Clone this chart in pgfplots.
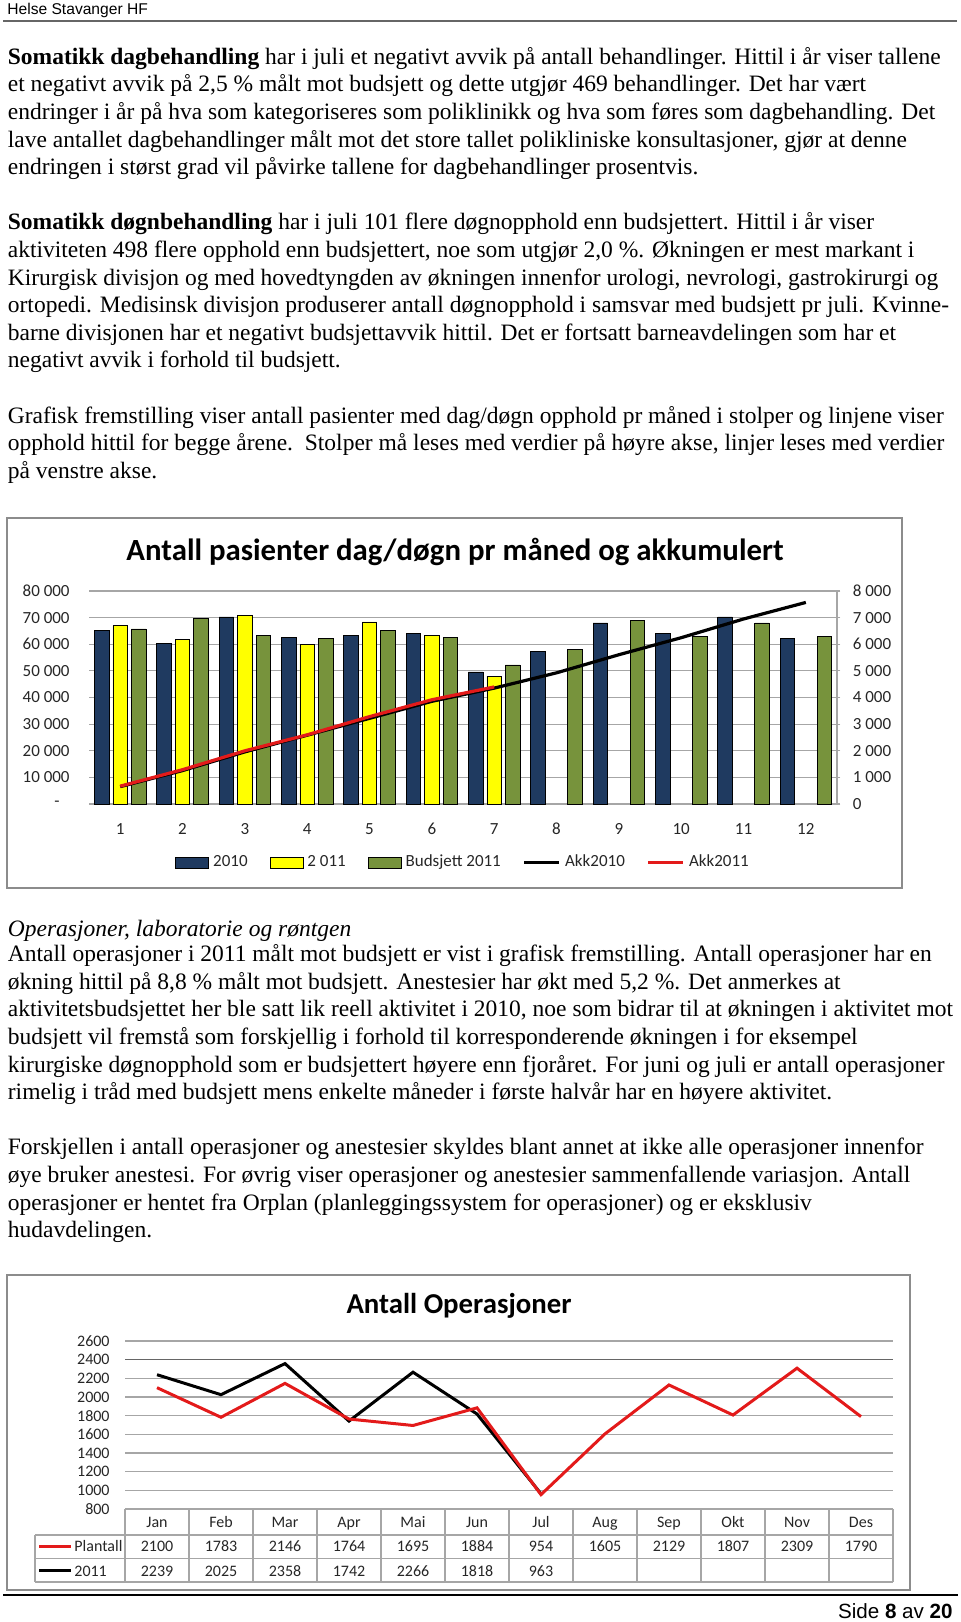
\documentclass[border=0pt]{standalone}
\usepackage{pgfplots}
\pgfplotsset{compat=1.18}
\usepackage{fontspec}
\setmainfont{Liberation Serif}
\newfontfamily\carlito{Carlito}
\newfontfamily\arialf{Liberation Sans}
\definecolor{navy}{HTML}{1F3A60}
\definecolor{yel}{HTML}{FFFF00}
\definecolor{olive}{HTML}{77933C}
\definecolor{gridc}{HTML}{A6A6A6}
\definecolor{framec}{HTML}{8C8C8C}
\definecolor{redl}{HTML}{E31A1A}
\pgfplotsset{
  barleg/.style={legend image code/.code={\draw[##1] (0pt,-2.75pt) rectangle (16.5pt,2.75pt);}},
  lineleg/.style={legend image code/.code={\draw[##1] (0pt,0pt) -- (17.5pt,0pt);}},
}
\newcommand\tl[2]{\node[anchor=base west,inner sep=0pt,font=\fontsize{11.75}{14}\selectfont] at (7.5,#1) {#2};}
\begin{document}
\begin{tikzpicture}[x=0.5pt,y=-0.5pt]
\path[use as bounding box] (0,0) rectangle (960,1622);
% header
\node[anchor=base west,inner sep=0pt,font=\arialf\fontsize{7.8}{9}\selectfont] at (7,14.5) {Helse Stavanger HF};
\draw[line width=0.85pt,color=black!60] (3,20.7) -- (957,20.7);
% paragraph 1
\tl{64.3}{\textbf{Somatikk dagbehandling} har i juli et negativt avvik på antall behandlinger. Hittil i år viser tallene}
\tl{91.9}{et negativt avvik på 2,5 \% målt mot budsjett og dette utgjør 469 behandlinger. Det har vært}
\tl{119.5}{endringer i år på hva som kategoriseres som poliklinikk og hva som føres som dagbehandling. Det}
\tl{147.1}{lave antallet dagbehandlinger målt mot det store tallet polikliniske konsultasjoner, gjør at denne}
\tl{174.7}{endringen i størst grad vil påvirke tallene for dagbehandlinger prosentvis.}
% paragraph 2
\tl{229.9}{\textbf{Somatikk døgnbehandling} har i juli 101 flere døgnopphold enn budsjettert. Hittil i år viser}
\tl{257.5}{aktiviteten 498 flere opphold enn budsjettert, noe som utgjør 2,0 \%. Økningen er mest markant i}
\tl{285.1}{Kirurgisk divisjon og med hovedtyngden av økningen innenfor urologi, nevrologi, gastrokirurgi og}
\tl{312.7}{ortopedi. Medisinsk divisjon produserer antall døgnopphold i samsvar med budsjett pr juli. Kvinne-}
\tl{340.3}{barne divisjonen har et negativt budsjettavvik hittil. Det er fortsatt barneavdelingen som har et}
\tl{367.9}{negativt avvik i forhold til budsjett.}
% paragraph 3
\tl{423.1}{Grafisk fremstilling viser antall pasienter med dag/døgn opphold pr måned i stolper og linjene viser}
\tl{450.7}{opphold hittil for begge årene.\ \ Stolper må leses med verdier på høyre akse, linjer leses med verdier}
\tl{478.3}{på venstre akse.}
% heading + paragraph 4
\tl{936.7}{\itshape Operasjoner, laboratorie og røntgen}
\tl{961.7}{Antall operasjoner i 2011 målt mot budsjett er vist i grafisk fremstilling. Antall operasjoner har en}
\tl{989.3}{økning hittil på 8,8 \% målt mot budsjett. Anestesier har økt med 5,2 \%. Det anmerkes at}
\tl{1016.9}{aktivitetsbudsjettet her ble satt lik reell aktivitet i 2010, noe som bidrar til at økningen i aktivitet mot}
\tl{1044.5}{budsjett vil fremstå som forskjellig i forhold til korresponderende økningen i for eksempel}
\tl{1072.1}{kirurgiske døgnopphold som er budsjettert høyere enn fjoråret. For juni og juli er antall operasjoner}
\tl{1099.7}{rimelig i tråd med budsjett mens enkelte måneder i første halvår har en høyere aktivitet.}
% paragraph 5
\tl{1154.9}{Forskjellen i antall operasjoner og anestesier skyldes blant annet at ikke alle operasjoner innenfor}
\tl{1182.5}{øye bruker anestesi. For øvrig viser operasjoner og anestesier sammenfallende variasjon. Antall}
\tl{1210.1}{operasjoner er hentet fra Orplan (planleggingssystem for operasjoner) og er eksklusiv}
\tl{1237.7}{hudavdelingen.}

% ===== Chart 1 =====
\draw[framec,line width=0.7pt] (7,518) rectangle (902,888);
\node[anchor=base,inner sep=0pt,font=\carlito\bfseries\fontsize{15.4}{18}\selectfont] at (455,560.7) {Antall pasienter dag/døgn pr måned og akkumulert};
\begin{axis}[
  at={(44.5pt,-402pt)}, anchor=south west,
  scale only axis, width=374pt, height=106.5pt,
  xmin=0.5, xmax=12.5, ymin=0, ymax=8000,
  scaled y ticks=false, scaled x ticks=false,
  axis x line*=bottom, axis y line*=right,
  axis line style={draw=gridc,line width=0.6pt,-},
  xtick={1,...,12}, xticklabels={1,2,3,4,5,6,7,8,9,10,11,12},
  xtick style={draw=none},
  ytick={0,1000,...,8000},
  yticklabels={0,1 000,2 000,3 000,4 000,5 000,6 000,7 000,8 000},
  ytick style={draw=gridc,line width=0.6pt}, tick align=outside, major tick length=1.7pt,
  ymajorgrids, grid style={draw=gridc,line width=0.6pt},
  ticklabel style={font=\carlito\fontsize{8.5}{10}\selectfont, text=black!85},
  xticklabel style={anchor=base, yshift=-13.7pt},
  yticklabel style={anchor=west, inner sep=0pt, xshift=6pt},
  ybar=2pt, bar width=7.25pt,
]
\addplot[fill=navy,draw=black,line width=0.4pt] coordinates {(1,6510)(2,6040)(3,7025)(4,6260)(5,6340)(6,6390)(7,4960)(8,5740)(9,6800)(10,6400)(11,7025)(12,6225)};
\addplot[fill=yel,draw=black,line width=0.4pt] coordinates {(1,6700)(2,6190)(3,7090)(4,6000)(5,6840)(6,6340)(7,4800)};
\addplot[fill=olive,draw=black,line width=0.4pt] coordinates {(1,6575)(2,6960)(3,6340)(4,6225)(5,6510)(6,6260)(7,5225)(8,5800)(9,6900)(10,6290)(11,6800)(12,6290)};
\end{axis}
\begin{axis}[
  at={(44.5pt,-402pt)}, anchor=south west,
  scale only axis, width=374pt, height=106.5pt,
  xmin=0.5, xmax=12.5, ymin=0, ymax=80000,
  scaled y ticks=false, scaled x ticks=false,
  axis x line=none, axis y line*=left, y axis line style={draw=none},
  ytick={0,10000,20000,30000,40000,50000,60000,70000,80000},
  yticklabels={{-\hspace*{5pt}},10 000,20 000,30 000,40 000,50 000,60 000,70 000,80 000},
  ytick style={draw=none},
  yticklabel style={anchor=east, inner sep=0pt, xshift=-9.5pt, font=\carlito\fontsize{8.5}{10}\selectfont, text=black!85},
  legend columns=5,
  legend style={draw=none, fill=none, at={(0.115,-0.2746)}, anchor=west, inner sep=0pt,
    font=\carlito\fontsize{8.5}{10}\selectfont, text=black!85,
    /tikz/every even column/.append style={column sep=9pt}},
  legend cell align=left,
]
\addlegendimage{fill=navy,draw=black,line width=0.4pt,barleg}
\addlegendentry{2010}
\addlegendimage{fill=yel,draw=black,line width=0.4pt,barleg}
\addlegendentry{2 011}
\addlegendimage{fill=olive,draw=black,line width=0.4pt,barleg}
\addlegendentry{Budsjett 2011}
\addplot[black,line width=1.6pt,lineleg] coordinates {(1,6510)(2,12550)(3,19575)(4,25835)(5,32175)(6,38565)(7,43525)(8,49265)(9,56065)(10,62465)(11,69490)(12,75715)};
\addlegendentry{Akk2010}
\addplot[redl,line width=1.6pt,lineleg] coordinates {(1,6700)(2,12890)(3,19980)(4,25980)(5,32820)(6,39160)(7,43960)};
\addlegendentry{Akk2011}
\end{axis}

% ===== Chart 2 =====
\draw[framec,line width=0.7pt] (7,1275) rectangle (910,1590);
\node[anchor=base,inner sep=0pt,font=\carlito\bfseries\fontsize{14.4}{17}\selectfont] at (459,1313) {Antall Operasjoner};
\begin{axis}[
  at={(62.5pt,-754.5pt)}, anchor=south west,
  scale only axis, width=384pt, height=84pt,
  xmin=0.5, xmax=12.5, ymin=800, ymax=2600,
  axis line style={draw=none}, tick style={draw=none},
  ytick={800,1000,...,2600},
  yticklabels={800,1000,1200,1400,1600,1800,2000,2200,2400,2600},
  extra y ticks={2400}, extra y tick labels={},
  extra y tick style={grid style={draw=black!60,line width=0.7pt}},
  ymajorgrids, grid style={draw=gridc,line width=0.6pt},
  xtick={1,...,12},
  xticklabels={Jan,Feb,Mar,Apr,Mai,Jun,Jul,Aug,Sep,Okt,Nov,Des},
  ticklabel style={font=\carlito\fontsize{8}{10}\selectfont, text=black!85},
  xticklabel style={anchor=base, yshift=-9pt},
  yticklabel style={anchor=east, inner sep=0pt, xshift=-7.5pt},
]
\addplot[black,line width=1.5pt] coordinates {(1,2239)(2,2025)(3,2358)(4,1742)(5,2266)(6,1818)(7,963)};
\addplot[redl,line width=1.5pt] coordinates {(1,2100)(2,1783)(3,2146)(4,1764)(5,1695)(6,1884)(7,954)(8,1605)(9,2129)(10,1807)(11,2309)(12,1790)};
\end{axis}
% data table under chart 2
\begin{scope}[gridc,line width=0.6pt]
\foreach \k in {0,...,12} {\draw (125+64*\k,1509) -- (125+64*\k,1582);}
\draw (35,1535) -- (893,1535);
\draw (35,1558.5) -- (893,1558.5);
\draw (35,1582) -- (893,1582);
\draw (35,1535) -- (35,1582);
\end{scope}
\draw[redl,line width=1.5pt] (39,1546.5) -- (71,1546.5);
\draw[black,line width=1.5pt] (39,1570) -- (71,1570);
\begin{scope}[every node/.style={anchor=base,inner sep=0pt,font=\carlito\fontsize{8}{10}\selectfont,text=black!85}]
\node[anchor=base west] at (74,1551.7) {Plantall};
\node[anchor=base west] at (74,1576) {2011};
\foreach \v [count=\i] in {2100,1783,2146,1764,1695,1884,954,1605,2129,1807,2309,1790}
  {\node at (125+64*\i-32,1551.7) {\v};}
\foreach \v [count=\i] in {2239,2025,2358,1742,2266,1818,963}
  {\node at (125+64*\i-32,1576) {\v};}
\end{scope}

% footer
\draw[line width=0.6pt,black] (3,1595) -- (958,1595);
\node[anchor=base east,inner sep=0pt,font=\arialf\fontsize{10.3}{12}\selectfont] at (953,1618) {Side \textbf{8} av \textbf{20}};
\end{tikzpicture}
\end{document}
